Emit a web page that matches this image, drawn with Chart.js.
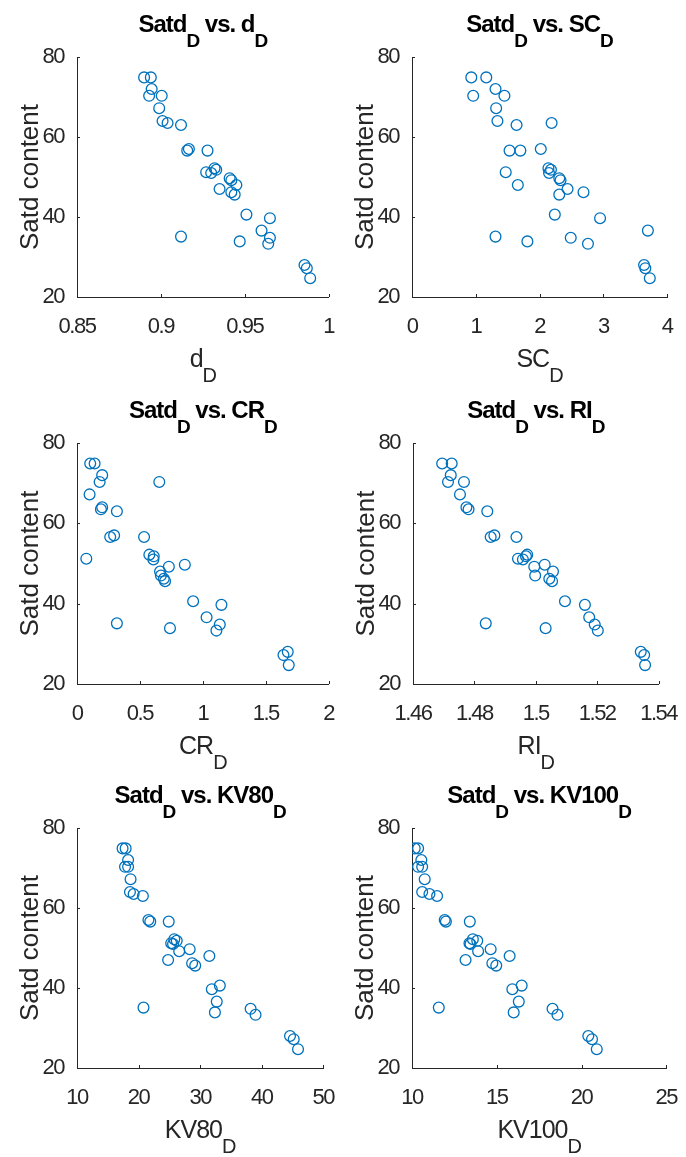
<!DOCTYPE html>
<html>
<head>
<meta charset="utf-8">
<script src="https://cdn.jsdelivr.net/npm/chart.js@4.4.0/dist/chart.umd.min.js"></script>
<style>
body{margin:0;background:#fff;}
#wrap{position:relative;width:686px;height:1157px;overflow:hidden;}
.cell{position:absolute;}
.cell canvas{display:block;}
</style>
</head>
<body>
<div id="wrap"></div>
<script>
// Satd content (same y for every panel)
var satd   = [74.9, 74.9, 72.0, 70.3, 70.3, 67.2, 64.0, 63.5, 63.0, 57.0, 56.6, 56.6, 51.2, 51.0, 52.2, 51.8,
              49.7, 49.2, 48.0, 47.0, 46.2, 45.6, 40.6, 39.7, 36.6, 35.1, 34.8, 33.9, 33.3, 28.0, 27.2, 24.7];
var dD     = [0.890, 0.894, 0.8945, 0.893, 0.9005, 0.899, 0.901, 0.904, 0.912, 0.9167, 0.9157, 0.9278, 0.927, 0.930, 0.932, 0.933,
              0.941, 0.942, 0.945, 0.935, 0.942, 0.944, 0.951, 0.965, 0.960, 0.912, 0.965, 0.947, 0.964, 0.9856, 0.987, 0.989];
var scD    = [0.93, 1.165, 1.31, 0.96, 1.45, 1.32, 1.34, 2.19, 1.64, 2.02, 1.70, 1.53, 1.47, 2.15, 2.14, 2.18,
              2.31, 2.33, 1.66, 2.44, 2.69, 2.31, 2.24, 2.95, 3.70, 1.31, 2.49, 1.81, 2.76, 3.64, 3.66, 3.73];
var crD    = [0.105, 0.14, 0.20, 0.18, 0.654, 0.10, 0.20, 0.19, 0.317, 0.295, 0.264, 0.533, 0.074, 0.607, 0.575, 0.61,
              0.857, 0.73, 0.66, 0.667, 0.69, 0.70, 0.923, 1.148, 1.03, 0.317, 1.135, 0.739, 1.108, 1.675, 1.641, 1.683];
var riD    = [1.4695, 1.4726, 1.4723, 1.4714, 1.4766, 1.4753, 1.4774, 1.4781, 1.4842, 1.4865, 1.4853, 1.4937, 1.4942, 1.4958, 1.4972, 1.4968,
              1.5029, 1.4995, 1.5056, 1.4998, 1.5044, 1.5053, 1.5095, 1.516, 1.5174, 1.4837, 1.5192, 1.5032, 1.5202, 1.5342, 1.5353, 1.5356];
var kv80D  = [17.4, 17.9, 18.3, 17.8, 18.3, 18.7, 18.6, 19.2, 20.7, 21.6, 21.9, 24.9, 25.3, 25.6, 25.8, 26.2,
              28.3, 26.6, 31.5, 24.8, 28.7, 29.2, 33.2, 31.9, 32.7, 20.8, 38.2, 32.4, 39.0, 44.6, 45.2, 45.9];
var kv100D = [10.16, 10.36, 10.55, 10.36, 10.6, 10.75, 10.6, 11.03, 11.48, 11.93, 12.0, 13.41, 13.39, 13.45, 13.59, 13.85,
              14.64, 13.9, 15.76, 13.16, 14.74, 14.97, 16.47, 15.92, 16.3, 11.58, 18.29, 16.0, 18.58, 20.4, 20.62, 20.9];

var yTicks     = [20, 40, 60, 80];
var dTicks     = [0.85, 0.9, 0.95, 1];
var scTicks    = [0, 1, 2, 3, 4];
var crTicks    = [0, 0.5, 1, 1.5, 2];
var riTicks    = [1.46, 1.48, 1.5, 1.52, 1.54];
var kv80Ticks  = [10, 20, 30, 40, 50];
var kv100Ticks = [10, 15, 20, 25];

var FONT = "'Liberation Sans', Arial, Helvetica, sans-serif";
var INK = '#262626';

// page layout: cell box and the wanted plot box (left, top, right, bottom)
var panels = [
  {name:'d',     vals:dD,     ticks:dTicks,     cell:[0, 0, 343, 390],     area:[77, 57, 329, 297]},
  {name:'SC',    vals:scD,    ticks:scTicks,    cell:[343, 0, 343, 390],   area:[412, 57, 667, 297]},
  {name:'CR',    vals:crD,    ticks:crTicks,    cell:[0, 390, 343, 390],   area:[77, 443, 329, 684]},
  {name:'RI',    vals:riD,    ticks:riTicks,    cell:[343, 390, 343, 390], area:[413, 443, 666, 684]},
  {name:'KV80',  vals:kv80D,  ticks:kv80Ticks,  cell:[0, 780, 343, 377],   area:[77, 828, 329, 1068]},
  {name:'KV100', vals:kv100D, ticks:kv100Ticks, cell:[343, 780, 343, 377], area:[412, 828, 667, 1068]}
];

function fmt(v){ return String(+(+v).toFixed(4)); }

// text with TeX-like subscripts, centred on cx
function subText(ctx, parts, cx, y, font, subFont, drop){
  var w = 0, i;
  for (i = 0; i < parts.length; i++){
    ctx.font = parts[i][1] ? subFont : font;
    w += ctx.measureText(parts[i][0]).width;
  }
  var x = cx - w / 2;
  ctx.textAlign = 'left';
  ctx.textBaseline = 'alphabetic';
  for (i = 0; i < parts.length; i++){
    ctx.font = parts[i][1] ? subFont : font;
    ctx.fillText(parts[i][0], x, parts[i][1] ? y + drop : y);
    x += ctx.measureText(parts[i][0]).width;
  }
}

var matlabLook = {
  id: 'matlabLook',
  beforeUpdate: function(chart){ chart.ctx.letterSpacing = '-1.5px'; },
  beforeDraw: function(chart){ chart.ctx.letterSpacing = '-1.5px'; },
  afterDraw: function(chart){
    var ctx = chart.ctx, a = chart.chartArea;
    var name = chart.options.plugins.matlabLook.name;
    var xs = chart.scales.x, ys = chart.scales.y;
    ctx.save();
    // inward tick marks
    ctx.strokeStyle = INK;
    ctx.lineWidth = 1;
    ctx.beginPath();
    xs.ticks.forEach(function(t){
      var px = Math.round(xs.getPixelForValue(t.value)) + 0.5;
      ctx.moveTo(px, a.bottom); ctx.lineTo(px, a.bottom - 3);
    });
    ys.ticks.forEach(function(t){
      var py = Math.round(ys.getPixelForValue(t.value)) + 0.5;
      ctx.moveTo(a.left, py); ctx.lineTo(a.left + 3, py);
    });
    ctx.stroke();

    var cx = (a.left + a.right) / 2;
    // title
    ctx.fillStyle = '#000';
    ctx.letterSpacing = '-1px';
    subText(ctx, [['Satd', 0], ['D', 1], [' vs. ' + name, 0], ['D', 1]], cx, a.top - 25,
      'bold 24px ' + FONT, 'bold 19px ' + FONT, 15);
    // x label
    ctx.fillStyle = INK;
    subText(ctx, [[name, 0], ['D', 1]], cx, a.bottom + 70, '25px ' + FONT, '20px ' + FONT, 15);
    // y label
    ctx.letterSpacing = '0px';
    ctx.translate(a.left - 39, (a.top + a.bottom) / 2);
    ctx.rotate(-Math.PI / 2);
    ctx.font = '26px ' + FONT;
    ctx.textAlign = 'center';
    ctx.textBaseline = 'alphabetic';
    ctx.fillText('Satd content', 0, 0);
    ctx.restore();
  }
};

var wrap = document.getElementById('wrap');

panels.forEach(function(p, k){
  var div = document.createElement('div');
  div.className = 'cell';
  div.style.left = p.cell[0] + 'px';
  div.style.top = p.cell[1] + 'px';
  div.style.width = p.cell[2] + 'px';
  div.style.height = p.cell[3] + 'px';
  var canvas = document.createElement('canvas');
  canvas.id = 'mycanvas' + k;
  canvas.width = p.cell[2];
  canvas.height = p.cell[3];
  canvas.style.width = p.cell[2] + 'px';
  canvas.style.height = p.cell[3] + 'px';
  div.appendChild(canvas);
  wrap.appendChild(div);

  var yWidth = p.area[0] - p.cell[0];
  var xHeight = p.cell[1] + p.cell[3] - p.area[3];
  var pts = p.vals.map(function(v, i){ return {x: v, y: satd[i]}; });
  var xt = p.ticks;

  new Chart(canvas, {
    type: 'scatter',
    data: {
      datasets: [{
        data: pts,
        pointStyle: 'circle',
        pointRadius: 5.4,
        pointHoverRadius: 5.4,
        borderWidth: 1.3,
        borderColor: '#0072BD',
        backgroundColor: 'rgba(0,0,0,0)'
      }]
    },
    options: {
      responsive: false,
      animation: false,
      devicePixelRatio: 1,
      events: [],
      layout: {padding: {left: 0, top: p.area[1] - p.cell[1], right: p.cell[0] + p.cell[2] - p.area[2], bottom: 0}},
      plugins: {legend: {display: false}, tooltip: {enabled: false}, matlabLook: {name: p.name}},
      scales: {
        x: {
          type: 'linear',
          min: xt[0], max: xt[xt.length - 1],
          afterBuildTicks: function(s){ s.ticks = xt.map(function(v){ return {value: v}; }); },
          afterFit: function(s){ s.height = xHeight; },
          grid: {display: false},
          border: {display: true, color: INK, width: 1},
          ticks: {color: INK, padding: 9, maxRotation: 0, autoSkip: false,
                  font: {family: FONT, size: 22}, callback: function(v){ return fmt(v); }}
        },
        y: {
          type: 'linear',
          min: 20, max: 80,
          afterBuildTicks: function(s){ s.ticks = yTicks.map(function(v){ return {value: v}; }); },
          afterFit: function(s){ s.width = yWidth; },
          grid: {display: false},
          border: {display: true, color: INK, width: 1},
          ticks: {color: INK, padding: 5, autoSkip: false,
                  font: {family: FONT, size: 22}, callback: function(v){ return fmt(v); }}
        }
      }
    },
    plugins: [matlabLook]
  });
});
</script>
</body>
</html>
